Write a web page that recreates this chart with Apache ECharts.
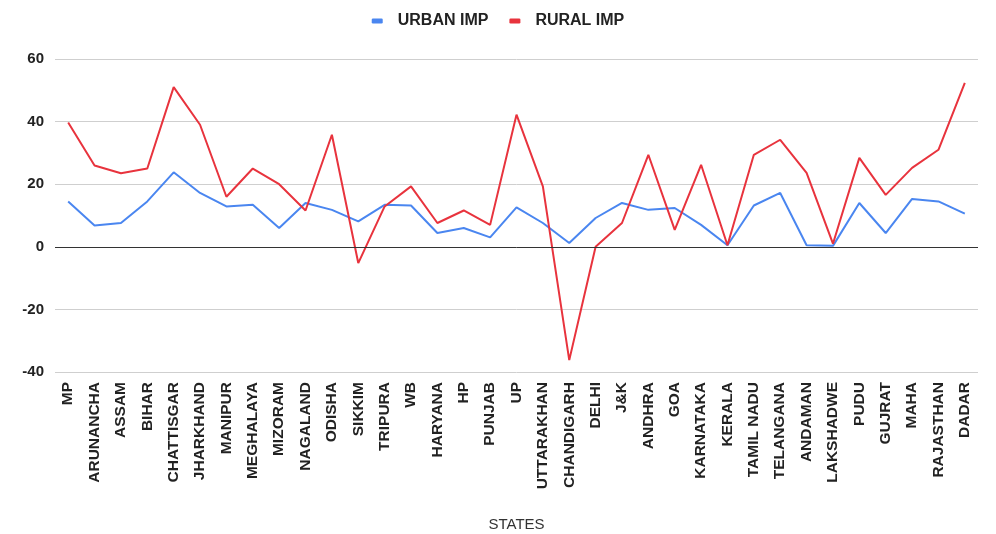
<!DOCTYPE html>
<html>
<head>
<meta charset="utf-8">
<script src="https://cdn.jsdelivr.net/npm/echarts@6/dist/echarts.min.js"></script>
<style>
  html, body { margin: 0; padding: 0; background: #fff; }
  #chart { width: 996px; height: 534px; }
</style>
</head>
<body>
<div id="chart"></div>
<script>
// states on the x axis
const states = ["MP", "ARUNANCHA", "ASSAM", "BIHAR", "CHATTISGAR", "JHARKHAND", "MANIPUR",
  "MEGHALAYA", "MIZORAM", "NAGALAND", "ODISHA", "SIKKIM", "TRIPURA", "WB", "HARYANA", "HP",
  "PUNJAB", "UP", "UTTARAKHAN", "CHANDIGARH", "DELHI", "J&K", "ANDHRA", "GOA", "KARNATAKA",
  "KERALA", "TAMIL NADU", "TELANGANA", "ANDAMAN", "LAKSHADWE", "PUDU", "GUJRAT", "MAHA",
  "RAJASTHAN", "DADAR"];

const urbanImp = [14.5, 6.8, 7.6, 14.5, 23.8, 17.2, 12.9, 13.4, 6, 14, 11.8, 8.1, 13.4, 13.2,
  4.4, 6, 3, 12.6, 7.6, 1.2, 9.2, 14, 11.8, 12.4, 7, 0.5, 13.2, 17.2, 0.5, 0.3, 14, 4.4,
  15.3, 14.5, 10.6];

const ruralImp = [39.7, 26, 23.5, 25, 51, 39, 16, 25, 20, 11.6, 35.8, -5.2, 12.9, 19.3,
  7.6, 11.6, 7, 42.2, 19.3, -36.2, 0, 7.6, 29.4, 5.4, 26.2, 0.5, 29.4, 34.2, 23.6, 1,
  28.4, 16.6, 25.2, 31, 52.4];

const chart = echarts.init(document.getElementById("chart"));

const labelFont = {
  fontFamily: "Liberation Sans, Arial, sans-serif",
  fontWeight: "bold",
  color: "#222",
};

chart.setOption({
  animation: false,
  legend: {
    top: 8,
    left: "center",
    icon: "roundRect",
    itemWidth: 11,
    itemHeight: 5,
    itemGap: 21,
    textStyle: Object.assign({ fontSize: 16, padding: [0, 0, 0, 10] }, labelFont),
    data: ["URBAN IMP", "RURAL IMP"],
  },
  grid: {
    left: 55,
    right: 18,
    top: 59,
    bottom: 162,
    outerBoundsMode: "none",
  },
  xAxis: {
    type: "category",
    data: states,
    boundaryGap: true,
    name: "STATES",
    nameLocation: "middle",
    nameGap: 145,
    nameTextStyle: {
      fontFamily: "Liberation Sans, Arial, sans-serif",
      fontSize: 15,
      color: "#333",
    },
    axisLine: { show: false },
    axisTick: { show: false },
    axisLabel: Object.assign({ rotate: 90, fontSize: 15.5, margin: 10, interval: 0 }, labelFont),
  },
  yAxis: {
    type: "value",
    min: -40,
    max: 60,
    interval: 20,
    axisLine: { show: false },
    axisTick: { show: false },
    axisLabel: Object.assign({ fontSize: 15, margin: 11 }, labelFont),
    splitLine: { lineStyle: { color: "#cfcfcf", width: 1 } },
  },
  series: [
    {
      name: "URBAN IMP",
      type: "line",
      data: urbanImp,
      showSymbol: false,
      symbol: "none",
      lineStyle: { width: 2, color: "#4a86f0" },
      itemStyle: { color: "#4a86f0" },
      // 零线
      markLine: {
        silent: true,
        symbol: "none",
        label: { show: false },
        lineStyle: { color: "#333", type: "solid", width: 1 },
        data: [{ yAxis: 0 }],
      },
    },
    {
      name: "RURAL IMP",
      type: "line",
      data: ruralImp,
      showSymbol: false,
      symbol: "none",
      lineStyle: { width: 2, color: "#e8333d" },
      itemStyle: { color: "#e8333d" },
    },
  ],
});
</script>
</body>
</html>
